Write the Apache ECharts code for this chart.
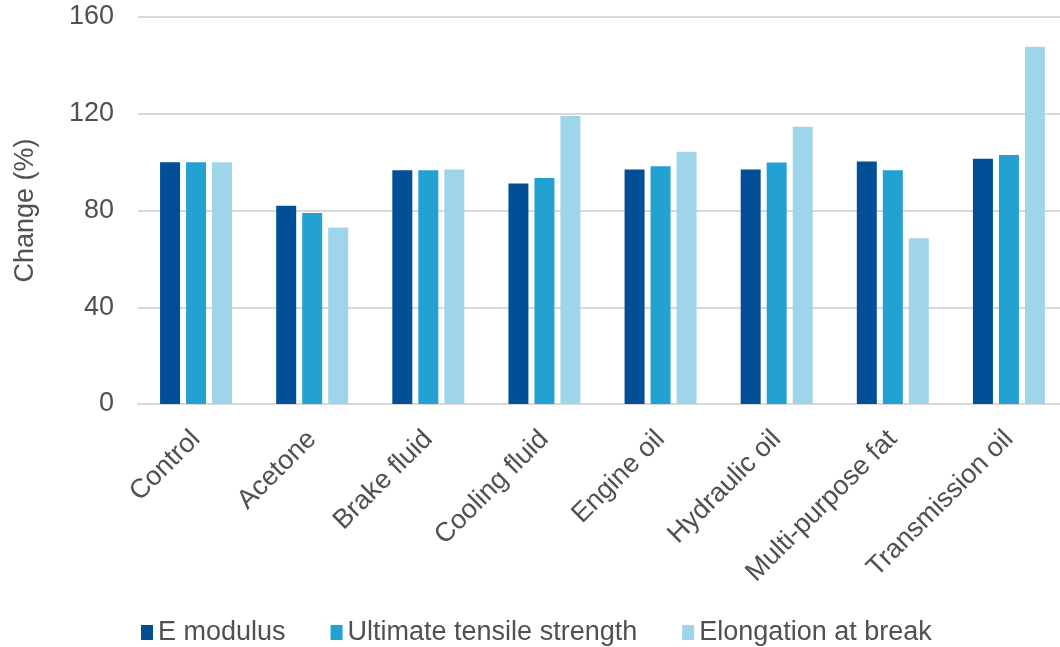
<!DOCTYPE html>
<html>
<head>
<meta charset="utf-8">
<script src="https://cdn.jsdelivr.net/npm/echarts@6/dist/echarts.min.js"></script>
<style>html,body{margin:0;padding:0;background:#fff}#c{width:1060px;height:647px}</style>
</head>
<body>
<div id="c"></div>
<script>
const categories = ['Control','Acetone','Brake fluid','Cooling fluid','Engine oil','Hydraulic oil','Multi-purpose fat','Transmission oil'];
const eModulus = [100, 82, 96.6, 91.2, 96.9, 96.9, 100.3, 101.4];
const tensileStrength = [100, 79, 96.6, 93.4, 98.3, 99.8, 96.6, 102.9];
const elongation = [100, 73, 96.9, 119.1, 104.3, 114.6, 68.5, 147.7];
const yTicks = [0, 40, 80, 120, 160];

const font = 'Liberation Sans';
const txt = '#505050';
const chart = echarts.init(document.getElementById('c'));
const mk = (name, data, color) => ({
  name, type: 'bar', data, barWidth: 20, barGap: '30%',
  itemStyle: { color }
});
chart.setOption({
  animation: false,
  textStyle: { fontFamily: font },
  grid: { left: 138, width: 929, top: 17, bottom: 243, containLabel: false, outerBoundsMode: 'none' },
  legend: {
    left: 136, top: 614,
    itemWidth: 12, itemHeight: 15, itemGap: 45,
    icon: 'rect',
    textStyle: { fontFamily: font, fontSize: 27, color: txt }
  },
  xAxis: {
    type: 'category', data: categories,
    axisTick: { show: false },
    axisLine: { lineStyle: { color: '#d9d9d9', width: 2 } },
    axisLabel: { rotate: 45, fontFamily: font, fontSize: 27, color: txt, margin: 31, interval: 0 }
  },
  yAxis: {
    type: 'value', min: yTicks[0], max: yTicks[yTicks.length - 1], interval: 40,
    name: 'Change (%)', nameLocation: 'middle', nameGap: 99,
    nameTextStyle: { fontFamily: font, fontSize: 27, color: txt },
    axisLabel: { fontFamily: font, fontSize: 27, color: txt, margin: 24 },
    splitLine: { lineStyle: { color: '#d9d9d9', width: 2 } },
    axisLine: { show: false }, axisTick: { show: false }
  },
  series: [
    mk('E modulus', eModulus, '#034f97'),
    mk('Ultimate tensile strength', tensileStrength, '#23a1d3'),
    mk('Elongation at break', elongation, '#9fd5eb')
  ]
});
</script>
</body>
</html>
